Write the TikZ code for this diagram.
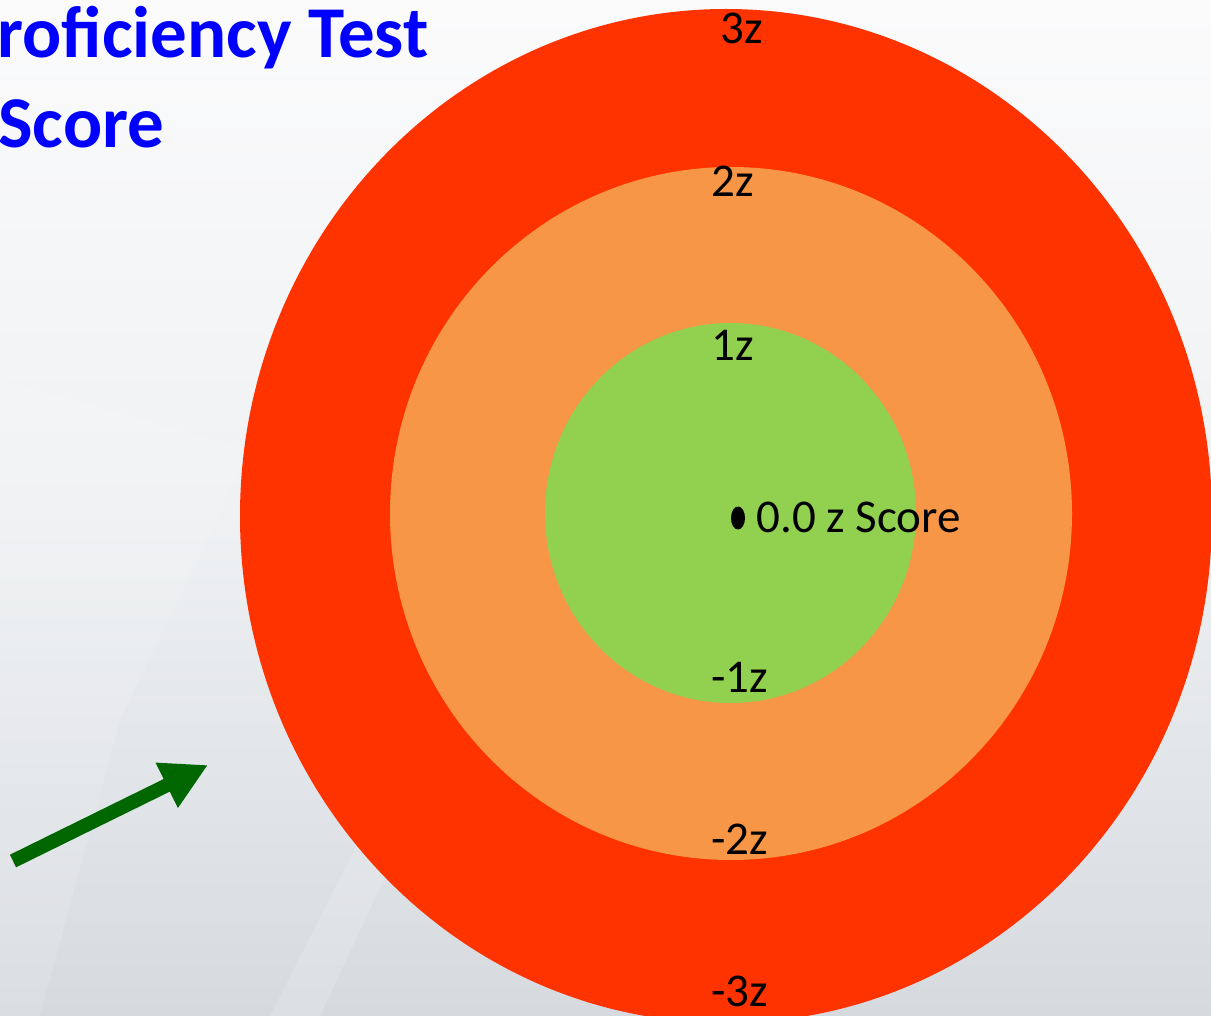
\documentclass[tikz,border=0pt]{standalone}
\usepackage{fontspec}
\setmainfont{Carlito}
\usetikzlibrary{arrows.meta}
\definecolor{bgtop}{HTML}{FBFBFC}
\definecolor{bgmid}{HTML}{EFF1F3}
\definecolor{bgbot}{HTML}{D6DADF}
\definecolor{ringred}{HTML}{FF3300}
\definecolor{ringorange}{HTML}{F79646}
\definecolor{ringgreen}{HTML}{92D050}
\definecolor{titleblue}{HTML}{0000FF}
\definecolor{arrowgreen}{HTML}{006600}
\begin{document}
\begin{tikzpicture}[x=0.5pt,y=-0.5pt,
  lab/.style={font=\fontsize{23.5}{28}\selectfont, inner sep=0pt, anchor=base, text=black},
  ttl/.style={font=\fontsize{36.5}{42}\selectfont\bfseries, inner sep=0pt, anchor=base west, text=titleblue},
  trend/.style={draw=arrowgreen, line width=7pt, line cap=butt, -{Triangle[length=23pt,width=23.5pt]}}]
\useasboundingbox (0,0) rectangle (1211,1016);
\begin{scope}
\clip (0,0) rectangle (1211,1016);
% background
\shade[top color=bgtop, bottom color=bgbot, middle color=bgmid] (0,0) rectangle (1211,1016);
\fill[white, opacity=0.12] (250,450) -- (120,720) -- (40,1016) -- (0,1016) -- (0,380) -- cycle;
\fill[white, opacity=0.15] (270,1016) -- (400,760) -- (440,760) -- (320,1016) -- cycle;
% rings
\fill[ringred] (726,516) ellipse [x radius=486, y radius=507];
\fill[ringorange] (731,513.5) ellipse [x radius=341, y radius=346.5];
\fill[ringgreen] (730.5,513) ellipse [x radius=185.5, y radius=190];
\fill[black] (738,518) ellipse [x radius=7, y radius=11.5];
\end{scope}
% labels
\node[lab] (l3) at (742,44) {3z};
\node[lab] (l2) at (732.5,197) {2z};
\node[lab] (l1) at (732.5,361) {1z};
\node[lab] (lm1) at (739.5,692) {-1z};
\node[lab] (lm2) at (739.5,854) {-2z};
\node[lab] (lm3) at (739.5,1006) {-3z};
\node[lab, anchor=base west] (zero) at (756,532) {0.0 z Score};
% title
\node[ttl] (t1) at (-3,58) {roficiency Test};
\node[ttl] (t2) at (-2,148) {Score};
% arrow
\coordinate (as) at (13,861);
\coordinate (ae) at (208,765);
\draw[trend] (as) -- (ae);
\end{tikzpicture}
\end{document}
